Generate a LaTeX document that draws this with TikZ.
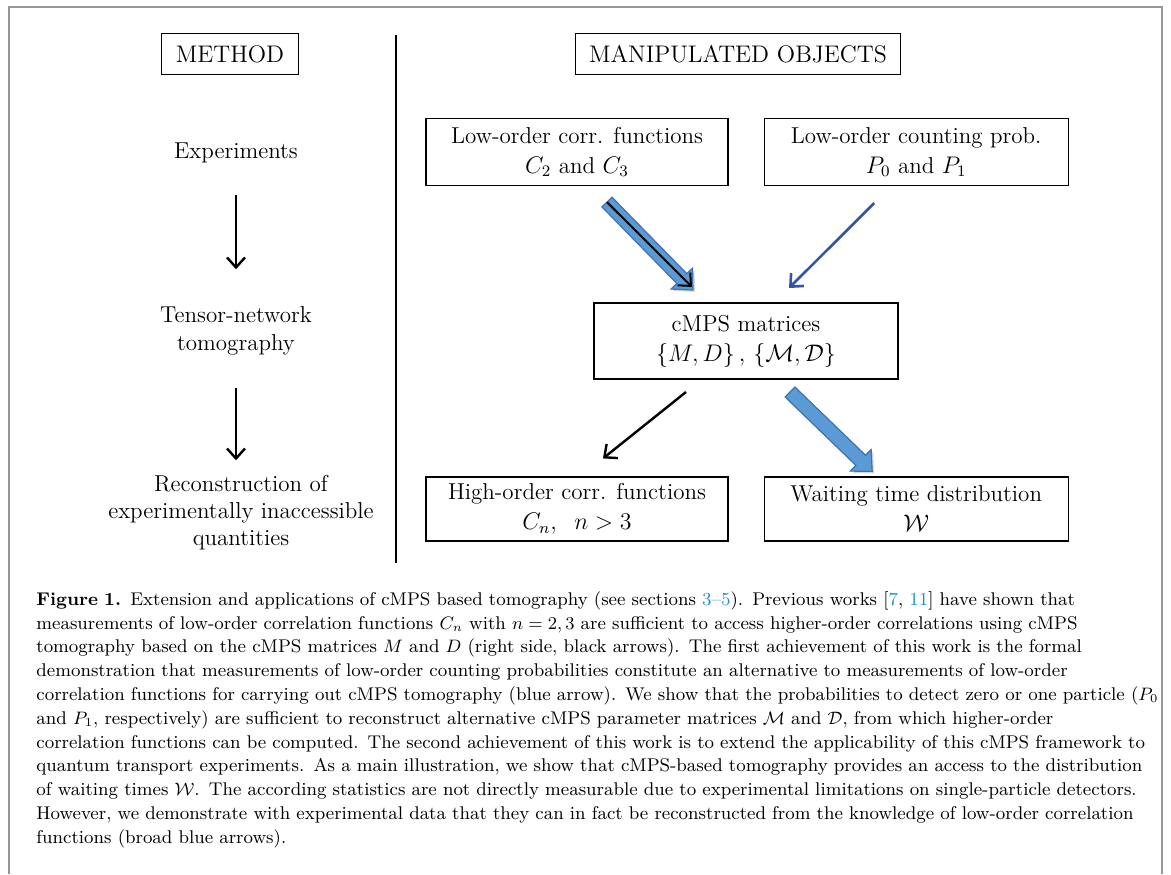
\documentclass[tikz,border=0pt]{standalone}
\usepackage{amsmath}
\usetikzlibrary{positioning,calc,arrows.meta,shadows}

\definecolor{fillblue}{RGB}{91,155,213}
\definecolor{edgeblue}{RGB}{65,113,178}
\definecolor{thinblue}{RGB}{50,85,165}
\definecolor{linkblue}{RGB}{30,143,205}
\definecolor{framegray}{RGB}{150,150,150}

\newcommand{\lk}[1]{\textcolor{linkblue}{#1}}

% broad blue arrow between two points
\newcommand{\broadarrow}[2]{%
  \coordinate (ba-s) at (#1);
  \coordinate (ba-e) at (#2);
  \coordinate (ba-n) at ($(ba-e)!8pt!(ba-s)$);
  \draw[broad] ($(ba-s)!3.5pt!90:(ba-e)$) -- ($(ba-n)!3.5pt!-90:(ba-s)$)
    -- ($(ba-n)!7.5pt!-90:(ba-s)$) -- (ba-e) -- ($(ba-n)!7.5pt!90:(ba-s)$)
    -- ($(ba-n)!3.5pt!90:(ba-s)$) -- ($(ba-s)!3.5pt!-90:(ba-e)$) -- cycle;}

\tikzset{
  box/.style={draw, line width=0.6pt, align=center, minimum width=151pt,
    minimum height=33.5pt, inner sep=2pt, font=\fontsize{11.5}{15}\selectfont},
  headbox/.style={draw, line width=0.6pt, inner sep=0pt, minimum height=20.5pt,
    font=\fontsize{12}{14}\selectfont},
  lbl/.style={align=center, inner sep=0pt, font=\fontsize{11.5}{14}\selectfont},
  blackarrow/.style={line width=1.2pt, -{Straight Barb[length=5pt,width=9pt]}},
  thinarrow/.style={thinblue, line width=1.3pt, -{Straight Barb[length=5pt,width=9pt]}},
  broad/.style={draw=edgeblue, fill=fillblue, line width=0.6pt, line join=miter,
    drop shadow={shadow xshift=1pt, shadow yshift=-1pt, opacity=.3}},
  capt/.style={anchor=north west, align=left, inner sep=0pt, text width=570pt,
    font=\fontsize{9.2}{11.9}\selectfont}
}

\begin{document}
\begin{tikzpicture}[x=0.5pt, y=-0.5pt]
  \useasboundingbox (0,0) rectangle (1171,874);
  \draw[framegray, line width=1pt] (9,874) -- (9,7) -- (1162,7) -- (1162,874);
  \draw[line width=0.7pt] (396,35) -- (396,563);

  % headings
  \node[headbox, minimum width=68.5pt] (method) at (230,54) {METHOD};
  \node[headbox, minimum width=162.5pt] (objects) at (738,54) {MANIPULATED OBJECTS};

  % left column
  \node[lbl] (exp) at (236,153) {Experiments};
  \node[lbl] (tomo) at (236,331) {Tensor-network\\tomography};
  \node[lbl, font=\fontsize{11.5}{13.5}\selectfont] (recon) at (241,513)
    {Reconstruction of\\experimentally inaccessible\\quantities};
  \draw[blackarrow, shorten <=16pt, shorten >=18.5pt] (exp.south) -- (tomo.north);
  \draw[blackarrow, shorten <=16pt, shorten >=7.5pt] (tomo.south) -- (tomo.south |- recon.north);

  % right column
  \node[box] (c23) at (577,152) {Low-order corr. functions\\$C_2$ and $C_3$};
  \node[box, minimum width=152pt] (p01) [right=17.5pt of c23] {Low-order counting prob.\\$P_0$ and $P_1$};
  \node[box, line width=1pt, minimum width=152pt, minimum height=38pt] (cmps) at (746,341)
    {cMPS matrices\\$\{M,D\}\,,\,\{\mathcal{M},\mathcal{D}\}$};
  \node[box, minimum height=32pt] (cn) at (577,509) {High-order corr. functions\\$C_n,\;\; n>3$};
  \node[box, minimum width=152pt, minimum height=32pt] (w) [right=17.5pt of cn] {Waiting time distribution\\$\mathcal{W}$};

  \broadarrow{[shift={(30,16)}]c23.south}{[shift={(-53,-12)}]cmps.north}
  \draw[blackarrow, line width=1pt] ([shift={(30,16)}]c23.south) -- ([shift={(-54,-15)}]cmps.north);
  \draw[thinarrow] ([shift={(-42,17)}]p01.south) -- ([shift={(43,-14)}]cmps.north);
  \draw[blackarrow] ([shift={(-60,12)}]cmps.south) -- ([shift={(26,-18)}]cn.north);
  \broadarrow{[shift={(44,12)}]cmps.south}{[shift={(-44,-5)}]w.north}

  % caption
  \node[capt] (cap) at (36,591) {%
\textbf{Figure 1.} Extension and applications of cMPS based tomography (see sections \lk{3--5}). Previous works [\lk{7}, \lk{11}] have shown that\\
measurements of low-order correlation functions $C_n$ with $n=2,3$ are sufficient to access higher-order correlations using cMPS\\
tomography based on the cMPS matrices $M$ and $D$ (right side, black arrows). The first achievement of this work is the formal\\
demonstration that measurements of low-order counting probabilities constitute an alternative to measurements of low-order\\
correlation functions for carrying out cMPS tomography (blue arrow). We show that the probabilities to detect zero or one particle ($P_0$\\
and $P_1$, respectively) are sufficient to reconstruct alternative cMPS parameter matrices $\mathcal{M}$ and $\mathcal{D}$, from which higher-order\\
correlation functions can be computed. The second achievement of this work is to extend the applicability of this cMPS framework to\\
quantum transport experiments. As a main illustration, we show that cMPS-based tomography provides an access to the distribution\\
of waiting times $\mathcal{W}$. The according statistics are not directly measurable due to experimental limitations on single-particle detectors.\\
However, we demonstrate with experimental data that they can in fact be reconstructed from the knowledge of low-order correlation\\
functions (broad blue arrows).};
\end{tikzpicture}
\end{document}
